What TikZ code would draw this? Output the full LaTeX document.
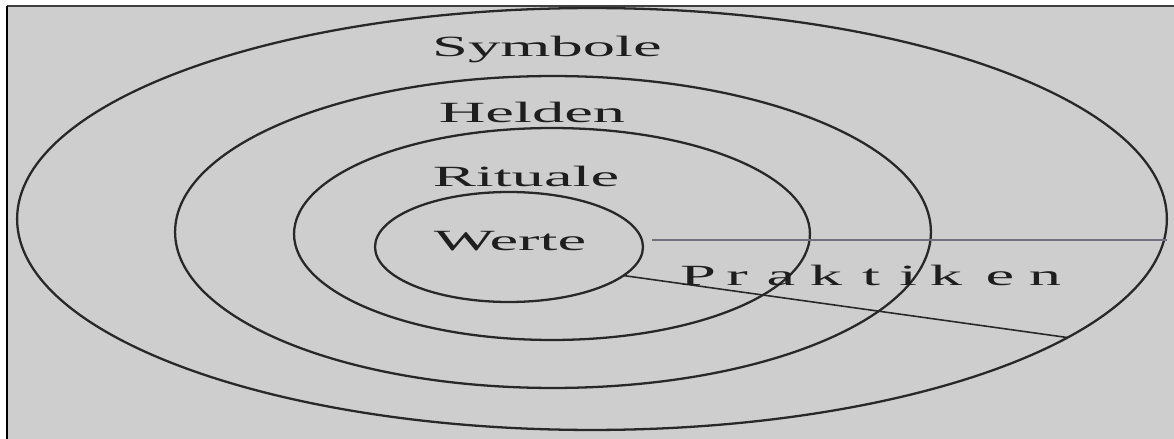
\documentclass[tikz,border=0pt]{standalone}
\usepackage{fontspec}
\setmainfont{Liberation Serif}
\usetikzlibrary{shapes.geometric}
\definecolor{bgcol}{RGB}{206,206,206}
\definecolor{ringcol}{RGB}{40,40,40}
\definecolor{hlinecol}{RGB}{112,112,124}
\definecolor{textcol}{RGB}{30,30,30}
\tikzset{
  ring/.style={draw=ringcol, line width=1.3pt, ellipse, inner sep=0pt, outer sep=0pt},
  layer/.style={anchor=base, xscale=2.2, text=textcol, font=\fontsize{16.7}{20}\selectfont},
}

\begin{document}
\begin{tikzpicture}[x=0.02cm, y=-0.02cm]
  \path[use as bounding box] (0,0) rectangle (1174,439);

  % Frame.
  \fill[bgcol] (7,6) rectangle (1180,445);
  \draw[line width=1pt, black!75] (7,6) -- (1180,6);
  \draw[line width=1pt, black] (7,445) -- (7,6);

  % Rings, outside in.
  \node[ring, minimum width=23cm, minimum height=8.44cm] (symbole) at (592,219) {};
  \node[ring, minimum width=15.12cm, minimum height=6.24cm] (helden) at (553,232) {};
  \node[ring, minimum width=10.32cm, minimum height=4.24cm] (rituale) at (552,234) {};
  \node[ring, minimum width=5.36cm, minimum height=2.2cm] (werte) at (509,247) {};

  % Layer labels.
  \node[layer] (symbolelab) at (547,57) {Symbole};
  \node[layer] (heldenlab) at (532,123) {Helden};
  \node[layer] (ritualelab) at (526,187) {Rituale};
  \node[layer] (wertelab) at (510,251) {Werte};

  % Sector lines.
  \coordinate (hstart) at (652,240);
  \draw[line width=1pt, hlinecol] (hstart) -- (symbole.east |- hstart);
  \draw[line width=0.9pt, ringcol] (werte.-14) -- (symbole.-14);

  % Spaced-out sector label.
  \foreach \ch/\xp [count=\i] in {P/698, r/737, a/781, k/826, t/871, i/908, k/946, e/1000, n/1045}
    \node[layer] (prak\i) at (\xp,285) {\ch};
\end{tikzpicture}
\end{document}
